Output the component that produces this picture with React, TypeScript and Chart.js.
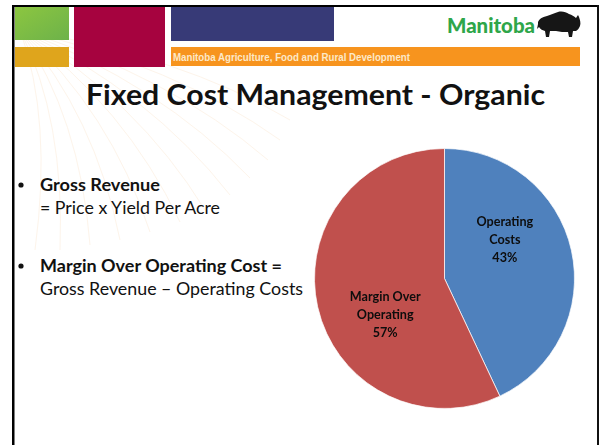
import React, { useEffect, useRef } from "react";
import { Chart, registerables } from "chart.js";

Chart.register(...registerables);

const categories = ["Operating Costs", "Margin Over Operating"];
const labelLines = [["Operating", "Costs"], ["Margin Over", "Operating"]];
const shares = [43, 57];
const sliceColors = ["#4F81BD", "#C0504D"];

const title = "Fixed Cost Management - Organic";
const ministry = "Manitoba Agriculture, Food and Rural Development";

const FONT = "Lato, 'Open Sans', 'Liberation Sans', sans-serif";

const pieLabelPlugin = {
  id: "pieLabels",
  afterDatasetsDraw(chart: any, _args: any, opts: any) {
    const { ctx } = chart;
    const meta = chart.getDatasetMeta(0);
    const data = chart.data.datasets[0].data as number[];
    const total = data.reduce((a, b) => a + b, 0);
    meta.data.forEach((arc: any, i: number) => {
      const off = opts.offsets[i];
      const cx = arc.x + arc.outerRadius * off[0];
      const cy = arc.y + arc.outerRadius * off[1];
      const lines = [...labelLines[i], Math.round((data[i] / total) * 100) + "%"];
      ctx.save();
      ctx.fillStyle = "#0d0d0d";
      ctx.font = "bold 14px " + FONT;
      ctx.textAlign = "center";
      ctx.textBaseline = "middle";
      lines.forEach((t: string, k: number) => {
        ctx.save();
        ctx.translate(cx, cy + (k - 1) * 18);
        ctx.scale(0.9, 1);
        ctx.fillText(t, 0, 0);
        ctx.restore();
      });
      ctx.restore();
    });
  },
};

function Rays() {
  const ends = [
    [60, 250], [90, 245], [120, 240], [150, 232], [180, 222], [205, 210],
    [230, 195], [250, 178], [268, 160], [280, 140], [290, 120], [35, 250],
  ];
  return (
    <g stroke="#f8cfa3" strokeWidth={0.8} fill="none" opacity={0.28}>
      {ends.map(([ex, ey], i) => (
        <path key={i} d={`M 20 30 Q ${(20 + ex) / 2 + 25} ${(30 + ey) / 2 - 20} ${ex} ${ey}`} />
      ))}
    </g>
  );
}

function Bison() {
  return (
    <path
      fill="#161616"
      d="M538 22 C539 19 542 17 547 16 C551 15 554 13 558 12 C562 11 566 12 569 14 C572 15 574 16 576 18 L578 15 L579 17 C580 20 581 23 580 26 C579 28 578 30 576 31 L573 31 L572 37 L569 37 L568 32 C564 32 560 32 556 31 L550 31 L549 37 L546 37 L545 31 C542 30 540 29 539 27 L537 29 L538 24 Z"
    />
  );
}

export default function App() {
  const canvasRef = useRef<HTMLCanvasElement>(null);

  useEffect(() => {
    if (!canvasRef.current) return;
    const chart = new Chart(canvasRef.current, {
      type: "pie",
      data: {
        labels: categories,
        datasets: [
          {
            data: shares,
            backgroundColor: sliceColors,
            borderColor: "rgba(255,255,255,0.7)",
            borderWidth: 1,
          },
        ],
      },
      options: {
        animation: false,
        responsive: false,
        devicePixelRatio: 1,
        layout: { padding: 8 },
        plugins: {
          legend: { display: false },
          tooltip: { enabled: false },
          pieLabels: { offsets: [[0.464, -0.303], [-0.456, 0.28]] },
        } as any,
      },
      plugins: [pieLabelPlugin],
    });
    return () => chart.destroy();
  }, []);

  return (
    <div style={{ position: "fixed", left: 0, top: 0, width: 602, height: 445, background: "#fff", overflow: "hidden" }}>
      <svg width={602} height={445} style={{ position: "absolute", left: 0, top: 0 }}>
        <rect x={0} y={0} width={602} height={445} fill="#fff" />
        <Rays />
        <defs>
          <linearGradient id="g1" x1="0" y1="0" x2="1" y2="1">
            <stop offset="0" stopColor="#8cc640" />
            <stop offset="1" stopColor="#6db24a" />
          </linearGradient>
        </defs>
        <rect x={15} y={7} width={54} height={33} fill="url(#g1)" />
        <rect x={15} y={47} width={54} height={20} fill="#dfa51c" />
        <rect x={74} y={7} width={91} height={60} fill="#a6033f" />
        <rect x={171} y={7} width={163} height={34} fill="#373a77" />
        <rect x={171} y={47} width={409} height={19} fill="#f7941e" />
        <text
          x={173}
          y={61}
          fontFamily="'Liberation Sans', sans-serif"
          fontSize={11}
          fontWeight="bold"
          fill="#fde9c8"
          textLength={237}
          lengthAdjust="spacingAndGlyphs"
        >
          {ministry}
        </text>
        <text
          x={447}
          y={33}
          fontFamily={FONT}
          fontSize={21}
          fontWeight={900}
          fill="#2ea64a"
          textLength={88}
          lengthAdjust="spacingAndGlyphs"
        >
          Manitoba
        </text>
        <Bison />
        <text
          x={86}
          y={105}
          fontFamily={FONT}
          fontSize={28}
          fontWeight="bold"
          fill="#111"
          textLength={459}
          lengthAdjust="spacingAndGlyphs"
        >
          {title}
        </text>
        <circle cx={21} cy={185} r={2.6} fill="#111" />
        <circle cx={21} cy={266} r={2.6} fill="#111" />
        <text x={40} y={191} fontFamily={FONT} fontSize={16.5} fontWeight="bold" fill="#111" textLength={120} lengthAdjust="spacingAndGlyphs">
          Gross Revenue
        </text>
        <text x={40} y={214} fontFamily={FONT} fontSize={16.5} fill="#111" textLength={180} lengthAdjust="spacingAndGlyphs">
          = Price x Yield Per Acre
        </text>
        <text x={40} y={272} fontFamily={FONT} fontSize={16.5} fontWeight="bold" fill="#111" textLength={242} lengthAdjust="spacingAndGlyphs">
          Margin Over Operating Cost =
        </text>
        <text x={40} y={295} fontFamily={FONT} fontSize={16.5} fill="#111" textLength={263} lengthAdjust="spacingAndGlyphs">
          Gross Revenue – Operating Costs
        </text>
        <rect x={12} y={5} width={587} height={2} fill="#000" />
        <rect x={12} y={5} width={2.5} height={440} fill="#000" />
        <rect x={597} y={5} width={2} height={440} fill="#111" />
      </svg>
      <canvas
        ref={canvasRef}
        width={289}
        height={277}
        style={{ position: "absolute", left: 300, top: 140, width: 289, height: 277 }}
      />
    </div>
  );
}
